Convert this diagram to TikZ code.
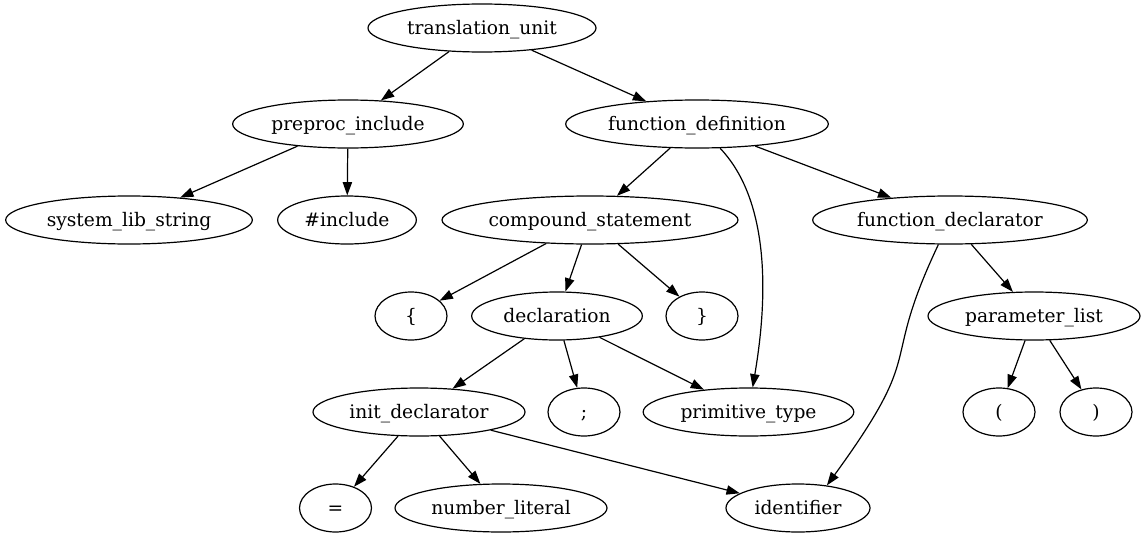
\documentclass[tikz,border=0pt]{standalone}
\usepackage{fontspec}
\setmainfont{DejaVu Serif}
\usetikzlibrary{shapes.geometric,arrows.meta}
\begin{document}
\begin{tikzpicture}[x=0.75pt, y=-0.75pt,
  ast/.style={shape=ellipse, draw, line width=0.9pt, inner sep=0pt, minimum height=36pt, minimum width=#1, text height=11pt, text depth=1.6pt, font=\fontsize{14}{17}\selectfont},
  ast/.default=54pt,
  link/.style={-{Triangle[length=10pt,width=7pt]}, line width=0.9pt}]
\useasboundingbox (0,0) rectangle (1146,539);
% rank 0 and 1
\node[ast=171pt] (tu) at (482,28) {translation\_unit};
\node[ast=173pt] (ppinc) at (348,124) {preproc\_include};
\node[ast=197pt] (fdef) at (697,124) {function\_definition};
% rank 2
\node[ast=185pt] (syslib) at (129,220) {system\_lib\_string};
\node[ast=104pt] (hinc) at (347,220) {\#include};
\node[ast=222pt] (cstmt) at (590,220) {compound\_statement};
\node[ast=206pt] (fdecl) at (950,220) {function\_declarator};
% rank 3
\node[ast] (lbrace) at (411,316) {\{};
\node[ast=128pt] (decl) at (557,316) {declaration};
\node[ast] (rbrace) at (702,316) {\}};
\node[ast=159pt] (plist) at (1034,316) {parameter\_list};
% rank 4
\node[ast=159pt] (initd) at (419,412) {init\_declarator};
\node[ast] (semi) at (584,412) {;};
\node[ast=158pt] (ptype) at (748.5,412) {primitive\_type};
\node[ast] (lpar) at (999,412) {(};
\node[ast] (rpar) at (1096,412) {)};
% rank 5
\node[ast] (eq) at (335.5,508) {=};
\node[ast=159pt] (numlit) at (501,508) {number\_literal};
\node[ast=108pt] (ident) at (798,508) {identifier};
% edges
\draw[link] (tu) -- (ppinc);
\draw[link] (tu) -- (fdef);
\draw[link] (ppinc) -- (syslib);
\draw[link] (ppinc) -- (hinc);
\draw[link] (fdef) -- (cstmt);
\draw[link] (fdef) .. controls (778,209) and (763,326) .. (ptype);
\draw[link] (fdef) -- (fdecl);
\draw[link] (cstmt) -- (lbrace);
\draw[link] (cstmt) -- (decl);
\draw[link] (cstmt) -- (rbrace);
\draw[link] (fdecl) .. controls (878,372) and (929,345) .. (ident.38);
\draw[link] (fdecl) -- (plist);
\draw[link] (decl) -- (initd);
\draw[link] (decl) -- (semi);
\draw[link] (decl) -- (ptype);
\draw[link] (plist) -- (lpar);
\draw[link] (plist) -- (rpar);
\draw[link] (initd) -- (eq);
\draw[link] (initd) -- (numlit);
\draw[link] (initd) -- (ident);
\end{tikzpicture}
\end{document}
